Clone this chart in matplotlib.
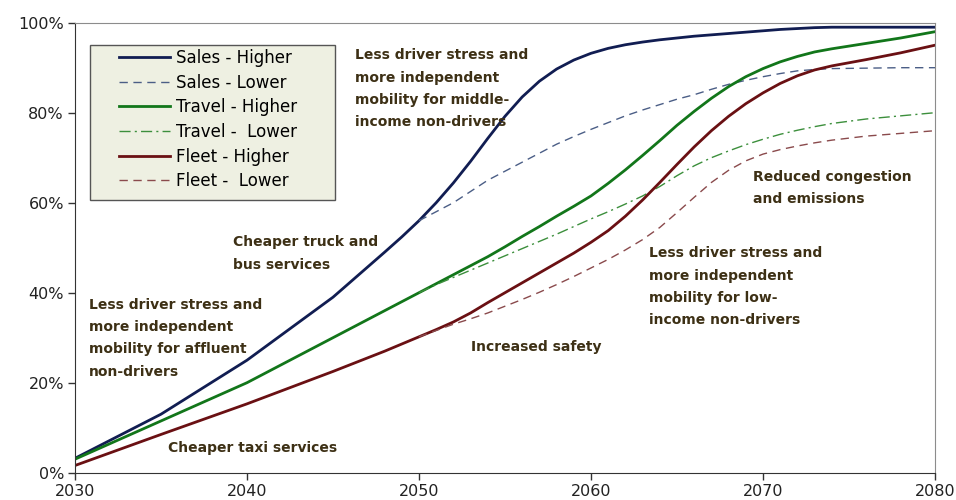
import numpy as np
import matplotlib
matplotlib.use("Agg")
import matplotlib.pyplot as plt
from matplotlib.patches import Rectangle
from matplotlib.ticker import FuncFormatter

nan = np.nan

years = [2030, 2035, 2040, 2045] + list(range(2048, 2075)) + [2076, 2078, 2080]

sales_higher = [3.2, 13, 25, 39,
                49, 52.4, 56, 60, 64.4, 69.2, 74.3, 79.2, 83.5, 87, 89.7, 91.7, 93.2, 94.3,
                95.1, 95.7, 96.2, 96.6, 97, 97.3, 97.6, 97.9, 98.2, 98.5, 98.7, 98.9, 99,
                99, 99, 99]
sales_lower = [nan, nan, nan, nan,
               nan, nan, 56, 58, 60, 62.5, 65, 67, 69, 71, 73, 74.7, 76.3, 77.8,
               79.3, 80.6, 81.8, 83, 84, 85.2, 86.3, 87.2, 88, 88.7, 89.3, 89.6, 89.8,
               89.9, 90, 90]
travel_higher = [3, 11.5, 20, 30,
                 36, 38, 40, 42, 44, 46, 48, 50.2, 52.5, 54.7, 57, 59.2, 61.5, 64.3,
                 67.3, 70.5, 73.8, 77.2, 80.3, 83.2, 85.8, 88, 89.8, 91.3, 92.5, 93.5, 94.2,
                 95.4, 96.6, 98]
travel_lower = [nan, nan, nan, nan,
                nan, nan, 40, 41.8, 43.4, 45, 46.6, 48.2, 49.8, 51.4, 53, 54.7, 56.4, 58,
                59.7, 61.5, 63.6, 66, 68.2, 70, 71.5, 72.9, 74.1, 75.2, 76.1, 76.9, 77.6,
                78.6, 79.3, 80]
fleet_higher = [1.6, 8.5, 15.3, 22.5,
                27, 28.6, 30.2, 31.8, 33.5, 35.5, 37.8, 40, 42.2, 44.4, 46.6, 48.8, 51.2, 53.8,
                57, 60.6, 64.5, 68.5, 72.4, 76, 79.2, 82, 84.4, 86.5, 88.2, 89.5, 90.4,
                91.8, 93.3, 95]
fleet_lower = [nan, nan, nan, nan,
               nan, nan, 30.2, 31.6, 33, 34.2, 35.5, 37, 38.5, 40.1, 41.8, 43.6, 45.5, 47.4,
               49.5, 51.8, 54.5, 57.8, 61.2, 64.5, 67.2, 69.3, 70.8, 71.8, 72.6, 73.3, 73.9,
               74.8, 75.4, 76]

notes = [
    ("Less driver stress and\nmore independent\nmobility for middle-\nincome non-drivers", 2046.3, 85.3),
    ("Cheaper truck and\nbus services", 2039.2, 48.7),
    ("Less driver stress and\nmore independent\nmobility for affluent\nnon-drivers", 2030.8, 29.9),
    ("Cheaper taxi services", 2035.4, 5.5),
    ("Increased safety", 2053.0, 27.9),
    ("Reduced congestion\nand emissions", 2069.4, 63.2),
    ("Less driver stress and\nmore independent\nmobility for low-\nincome non-drivers", 2063.4, 41.3),
]

fig = plt.figure(figsize=(9.56, 5.0), dpi=100)
ax = fig.add_axes([75 / 956, 1 - 472.7 / 500, 860 / 956, 450 / 500])

ax.plot(years, sales_higher, color="#111d52", lw=2.0, label="Sales - Higher")
ax.plot(years, sales_lower, color="#4b5e86", lw=1.0, ls=(0, (6, 4)), label="Sales - Lower")
ax.plot(years, travel_higher, color="#12761a", lw=2.0, label="Travel - Higher")
ax.plot(years, travel_lower, color="#3c8f3c", lw=1.0, ls=(0, (8, 3, 1.5, 3)), label="Travel -  Lower")
ax.plot(years, fleet_higher, color="#6a1013", lw=2.0, label="Fleet - Higher")
ax.plot(years, fleet_lower, color="#8a4a4c", lw=1.0, ls=(0, (6, 4)), label="Fleet -  Lower")

ax.set_xlim(2030, 2080)
ax.set_ylim(0, 100)
ax.set_xticks(range(2030, 2081, 10))
ax.set_yticks(range(0, 101, 20))
ax.yaxis.set_major_formatter(FuncFormatter(lambda v, p: f"{v:.0f}%"))
ax.tick_params(direction="out", length=5, width=1, color="#333333",
               labelsize=11.5, labelcolor="#222222", pad=3)

for side in ["top", "right"]:
    ax.spines[side].set_color("#8c8c8c")
for side in ["left", "bottom"]:
    ax.spines[side].set_color("#333333")

for text, x, y in notes:
    ax.text(x, y, text, ha="left", va="center", fontsize=10, fontweight="bold",
            color="#3d3015", linespacing=1.75, family="DejaVu Sans")

# legend box drawn separately so the padding matches
ax.add_patch(Rectangle((0.0174, 0.606), 0.285, 0.344, transform=ax.transAxes,
                       facecolor="#eef0e2", edgecolor="#555555", lw=1.0, zorder=4))
ax.legend(loc="upper left", bbox_to_anchor=(0.0512, 0.9416), frameon=False,
          borderpad=0, borderaxespad=0, handlelength=3.05,
          handletextpad=0.36, labelspacing=0.4, prop={"family": "DejaVu Sans", "size": 12})

fig.savefig("out.png", dpi=100)
